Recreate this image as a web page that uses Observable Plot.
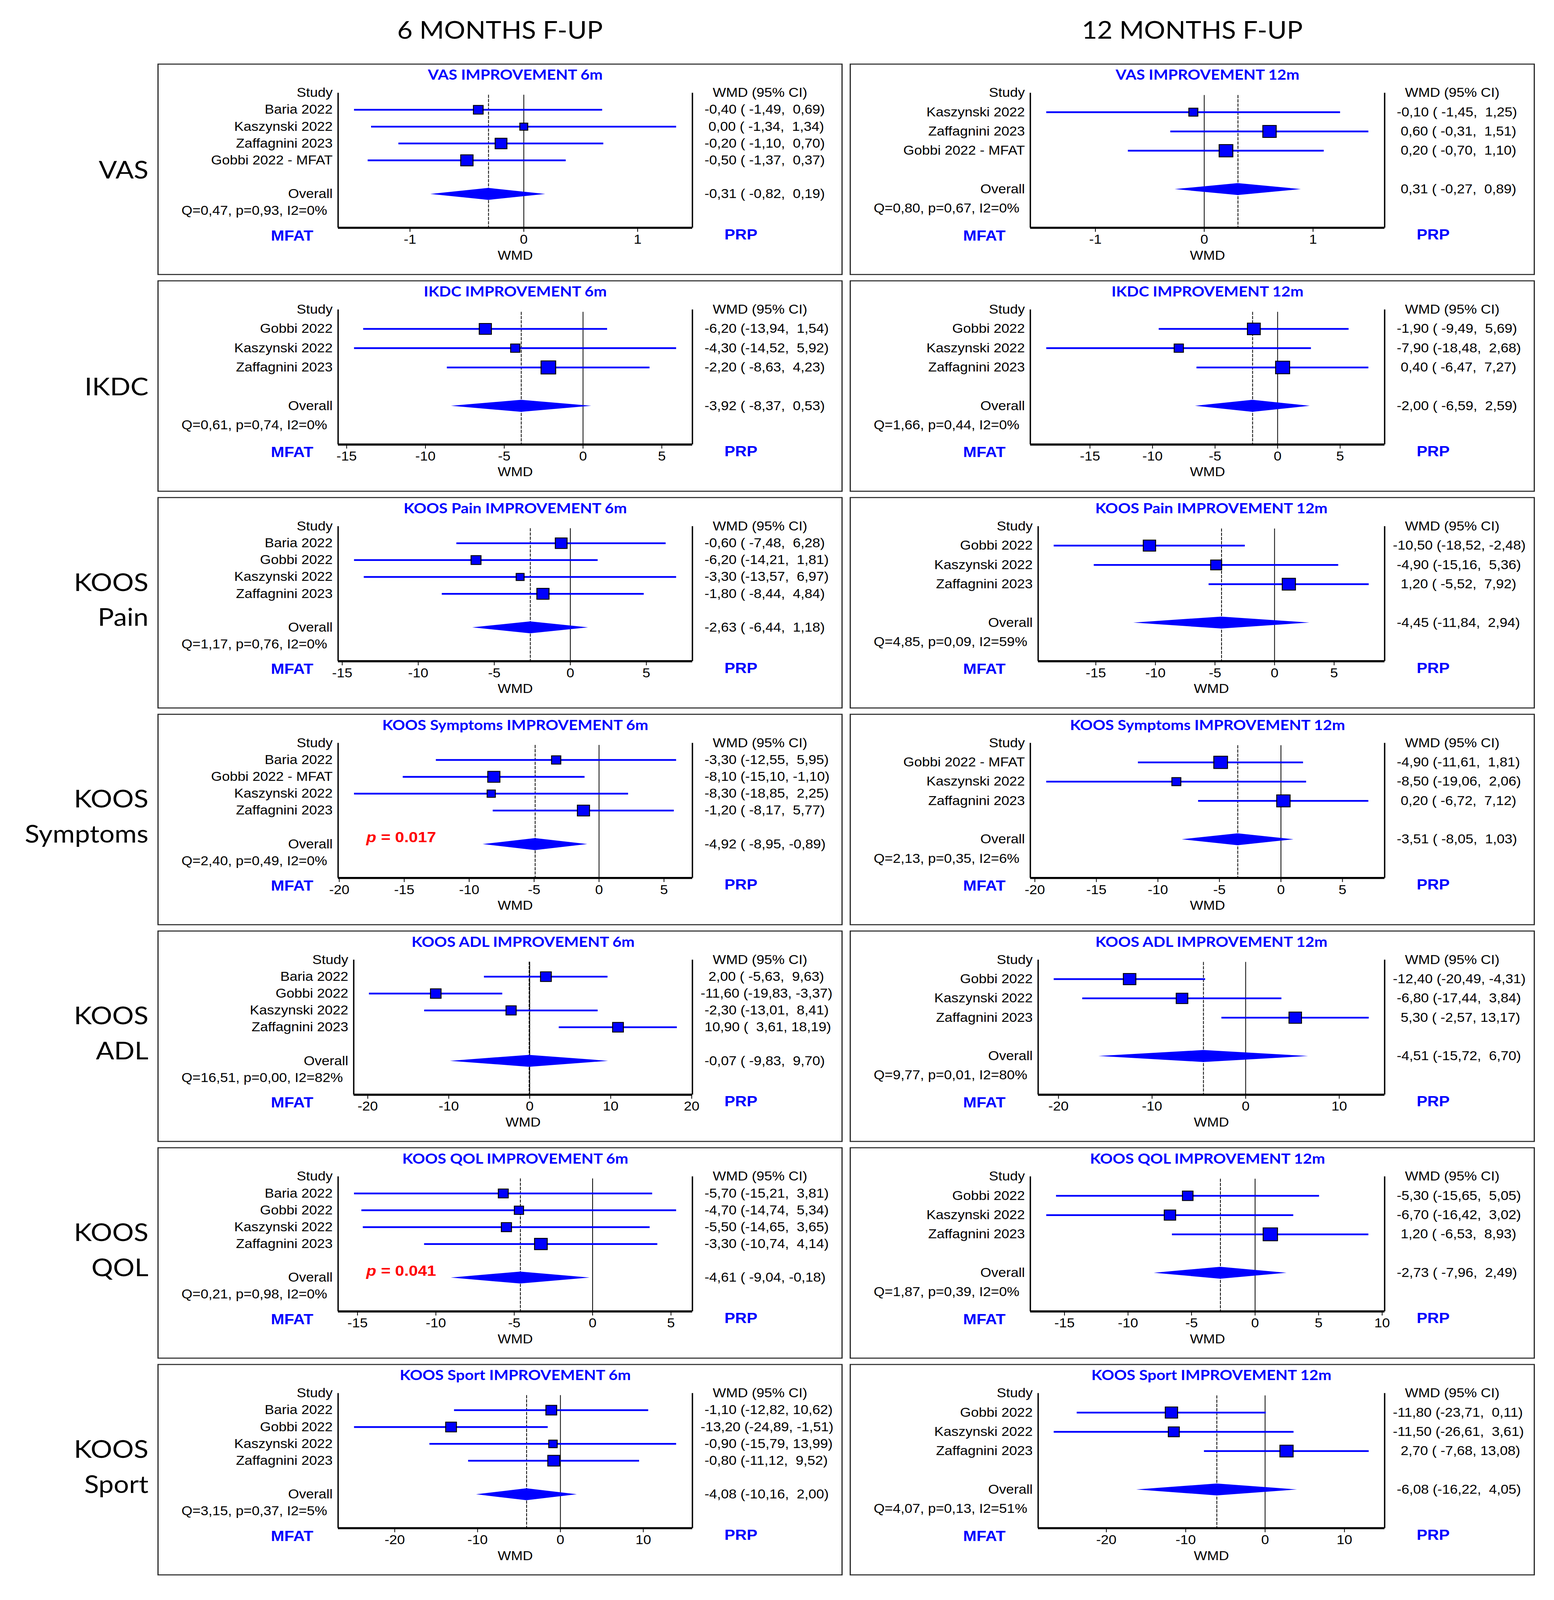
<!DOCTYPE html>
<html><head><meta charset="utf-8">
<script src="https://cdn.jsdelivr.net/npm/d3@7"></script>
<script src="https://cdn.jsdelivr.net/npm/@observablehq/plot@0.6"></script>
<style>
html,body{margin:0;padding:0;background:#fff;overflow:hidden;}
#root{position:relative;width:3978px;height:4555px;background:#fff;overflow:hidden;transform-origin:0 0}
.box{position:absolute;box-sizing:border-box;border:3px solid #2a2a2a;background:#fff}
.box svg{position:absolute;left:-3px;top:-3px;overflow:visible;max-width:none!important}
.coltitle{position:absolute;font-family:Lato,sans-serif;font-size:68px;text-align:center;line-height:80px;color:#000}
.rowlab{position:absolute;left:0;width:380px;display:flex;align-items:center;justify-content:flex-end;font-family:Lato,sans-serif;font-size:69px;line-height:100px;text-align:right;white-space:pre-line;color:#000}
</style></head><body><div id="root"></div>
<script>
// ---------------- DATA ----------------
const colTitles = ["6 MONTHS F-UP", "12 MONTHS F-UP"];
const rowLabels = ["VAS", "IKDC", "KOOS\nPain", "KOOS\nSymptoms", "KOOS\nADL", "KOOS\nQOL", "KOOS\nSport"];

// VAS 6m
const vas6Studies = ["Baria 2022", "Kaszynski 2022", "Zaffagnini 2023", "Gobbi 2022 - MFAT"];
const vas6Est = [-0.40, 0.00, -0.20, -0.50];
const vas6Lo = [-1.49, -1.34, -1.10, -1.37];
const vas6Hi = [0.69, 1.34, 0.70, 0.37];
const vas6Wt = [21, 14, 31, 34];
const vas6Overall = [-0.31, -0.82, 0.19];
const vas6Het = "Q=0,47, p=0,93, I2=0%";
const vas6Ticks = [-1, 0, 1];

// VAS 12m
const vas12Studies = ["Kaszynski 2022", "Zaffagnini 2023", "Gobbi 2022 - MFAT"];
const vas12Est = [-0.10, 0.60, 0.20];
const vas12Lo = [-1.45, -0.31, -0.70];
const vas12Hi = [1.25, 1.51, 1.10];
const vas12Wt = [18, 40, 42];
const vas12Overall = [0.31, -0.27, 0.89];
const vas12Het = "Q=0,80, p=0,67, I2=0%";
const vas12Ticks = [-1, 0, 1];

// IKDC 6m
const ikdc6Studies = ["Gobbi 2022", "Kaszynski 2022", "Zaffagnini 2023"];
const ikdc6Est = [-6.20, -4.30, -2.20];
const ikdc6Lo = [-13.94, -14.52, -8.63];
const ikdc6Hi = [1.54, 5.92, 4.23];
const ikdc6Wt = [33, 19, 48];
const ikdc6Overall = [-3.92, -8.37, 0.53];
const ikdc6Het = "Q=0,61, p=0,74, I2=0%";
const ikdc6Ticks = [-15, -10, -5, 0, 5];

// IKDC 12m
const ikdc12Studies = ["Gobbi 2022", "Kaszynski 2022", "Zaffagnini 2023"];
const ikdc12Est = [-1.90, -7.90, 0.40];
const ikdc12Lo = [-9.49, -18.48, -6.47];
const ikdc12Hi = [5.69, 2.68, 7.27];
const ikdc12Wt = [37, 19, 44];
const ikdc12Overall = [-2.00, -6.59, 2.59];
const ikdc12Het = "Q=1,66, p=0,44, I2=0%";
const ikdc12Ticks = [-15, -10, -5, 0, 5];

// KOOS Pain 6m
const pain6Studies = ["Baria 2022", "Gobbi 2022", "Kaszynski 2022", "Zaffagnini 2023"];
const pain6Est = [-0.60, -6.20, -3.30, -1.80];
const pain6Lo = [-7.48, -14.21, -13.57, -8.44];
const pain6Hi = [6.28, 1.81, 6.97, 4.84];
const pain6Wt = [31, 22, 14, 33];
const pain6Overall = [-2.63, -6.44, 1.18];
const pain6Het = "Q=1,17, p=0,76, I2=0%";
const pain6Ticks = [-15, -10, -5, 0, 5];

// KOOS Pain 12m
const pain12Studies = ["Gobbi 2022", "Kaszynski 2022", "Zaffagnini 2023"];
const pain12Est = [-10.50, -4.90, 1.20];
const pain12Lo = [-18.52, -15.16, -5.52];
const pain12Hi = [-2.48, 5.36, 7.92];
const pain12Wt = [34, 27, 39];
const pain12Overall = [-4.45, -11.84, 2.94];
const pain12Het = "Q=4,85, p=0,09, I2=59%";
const pain12Ticks = [-15, -10, -5, 0, 5];

// KOOS Symptoms 6m
const sym6Studies = ["Baria 2022", "Gobbi 2022 - MFAT", "Kaszynski 2022", "Zaffagnini 2023"];
const sym6Est = [-3.30, -8.10, -8.30, -1.20];
const sym6Lo = [-12.55, -15.10, -18.85, -8.17];
const sym6Hi = [5.95, -1.10, 2.25, 5.77];
const sym6Wt = [19, 33, 15, 33];
const sym6Overall = [-4.92, -8.95, -0.89];
const sym6Het = "Q=2,40, p=0,49, I2=0%";
const sym6Ticks = [-20, -15, -10, -5, 0, 5];
const sym6P = "0.017";

// KOOS Symptoms 12m
const sym12Studies = ["Gobbi 2022 - MFAT", "Kaszynski 2022", "Zaffagnini 2023"];
const sym12Est = [-4.90, -8.50, 0.20];
const sym12Lo = [-11.61, -19.06, -6.72];
const sym12Hi = [1.81, 2.06, 7.12];
const sym12Wt = [42, 18, 40];
const sym12Overall = [-3.51, -8.05, 1.03];
const sym12Het = "Q=2,13, p=0,35, I2=6%";
const sym12Ticks = [-20, -15, -10, -5, 0, 5];

// KOOS ADL 6m
const adl6Studies = ["Baria 2022", "Gobbi 2022", "Kaszynski 2022", "Zaffagnini 2023"];
const adl6Est = [2.00, -11.60, -2.30, 10.90];
const adl6Lo = [-5.63, -19.83, -13.01, 3.61];
const adl6Hi = [9.63, -3.37, 8.41, 18.19];
const adl6Wt = [26, 25, 23, 26];
const adl6Overall = [-0.07, -9.83, 9.70];
const adl6Het = "Q=16,51, p=0,00, I2=82%";
const adl6Ticks = [-20, -10, 0, 10, 20];

// KOOS ADL 12m
const adl12Studies = ["Gobbi 2022", "Kaszynski 2022", "Zaffagnini 2023"];
const adl12Est = [-12.40, -6.80, 5.30];
const adl12Lo = [-20.49, -17.44, -2.57];
const adl12Hi = [-4.31, 3.84, 13.17];
const adl12Wt = [35, 30, 35];
const adl12Overall = [-4.51, -15.72, 6.70];
const adl12Het = "Q=9,77, p=0,01, I2=80%";
const adl12Ticks = [-20, -10, 0, 10];

// KOOS QOL 6m
const qol6Studies = ["Baria 2022", "Gobbi 2022", "Kaszynski 2022", "Zaffagnini 2023"];
const qol6Est = [-5.70, -4.70, -5.50, -3.30];
const qol6Lo = [-15.21, -14.74, -14.65, -10.74];
const qol6Hi = [3.81, 5.34, 3.65, 4.14];
const qol6Wt = [22, 19, 23, 36];
const qol6Overall = [-4.61, -9.04, -0.18];
const qol6Het = "Q=0,21, p=0,98, I2=0%";
const qol6Ticks = [-15, -10, -5, 0, 5];
const qol6P = "0.041";

// KOOS QOL 12m
const qol12Studies = ["Gobbi 2022", "Kaszynski 2022", "Zaffagnini 2023"];
const qol12Est = [-5.30, -6.70, 1.20];
const qol12Lo = [-15.65, -16.42, -6.53];
const qol12Hi = [5.05, 3.02, 8.93];
const qol12Wt = [25, 29, 46];
const qol12Overall = [-2.73, -7.96, 2.49];
const qol12Het = "Q=1,87, p=0,39, I2=0%";
const qol12Ticks = [-15, -10, -5, 0, 5, 10];

// KOOS Sport 6m
const sport6Studies = ["Baria 2022", "Gobbi 2022", "Kaszynski 2022", "Zaffagnini 2023"];
const sport6Est = [-1.10, -13.20, -0.90, -0.80];
const sport6Lo = [-12.82, -24.89, -15.79, -11.12];
const sport6Hi = [10.62, -1.51, 13.99, 9.52];
const sport6Wt = [26, 26, 16, 32];
const sport6Overall = [-4.08, -10.16, 2.00];
const sport6Het = "Q=3,15, p=0,37, I2=5%";
const sport6Ticks = [-20, -10, 0, 10];

// KOOS Sport 12m
const sport12Studies = ["Gobbi 2022", "Kaszynski 2022", "Zaffagnini 2023"];
const sport12Est = [-11.80, -11.50, 2.70];
const sport12Lo = [-23.71, -26.61, -7.68];
const sport12Hi = [0.11, 3.61, 13.08];
const sport12Wt = [34, 27, 39];
const sport12Overall = [-6.08, -16.22, 4.05];
const sport12Het = "Q=4,07, p=0,13, I2=51%";
const sport12Ticks = [-20, -10, 0, 10];

const panelTitles = [
  ["VAS IMPROVEMENT 6m", "VAS IMPROVEMENT 12m"],
  ["IKDC IMPROVEMENT 6m", "IKDC IMPROVEMENT 12m"],
  ["KOOS Pain IMPROVEMENT 6m", "KOOS Pain IMPROVEMENT 12m"],
  ["KOOS Symptoms IMPROVEMENT 6m", "KOOS Symptoms IMPROVEMENT 12m"],
  ["KOOS ADL IMPROVEMENT 6m", "KOOS ADL IMPROVEMENT 12m"],
  ["KOOS QOL IMPROVEMENT 6m", "KOOS QOL IMPROVEMENT 12m"],
  ["KOOS Sport IMPROVEMENT 6m", "KOOS Sport IMPROVEMENT 12m"]
];

// ---------------- TABLE ----------------
const mk = (title, studies, est, lo, hi, wt, overall, het, ticks, pval) => ({title, studies, est, lo, hi, wt, overall, het, ticks, pval});
const grid = [
  [mk(panelTitles[0][0], vas6Studies, vas6Est, vas6Lo, vas6Hi, vas6Wt, vas6Overall, vas6Het, vas6Ticks),
   mk(panelTitles[0][1], vas12Studies, vas12Est, vas12Lo, vas12Hi, vas12Wt, vas12Overall, vas12Het, vas12Ticks)],
  [mk(panelTitles[1][0], ikdc6Studies, ikdc6Est, ikdc6Lo, ikdc6Hi, ikdc6Wt, ikdc6Overall, ikdc6Het, ikdc6Ticks),
   mk(panelTitles[1][1], ikdc12Studies, ikdc12Est, ikdc12Lo, ikdc12Hi, ikdc12Wt, ikdc12Overall, ikdc12Het, ikdc12Ticks)],
  [mk(panelTitles[2][0], pain6Studies, pain6Est, pain6Lo, pain6Hi, pain6Wt, pain6Overall, pain6Het, pain6Ticks),
   mk(panelTitles[2][1], pain12Studies, pain12Est, pain12Lo, pain12Hi, pain12Wt, pain12Overall, pain12Het, pain12Ticks)],
  [mk(panelTitles[3][0], sym6Studies, sym6Est, sym6Lo, sym6Hi, sym6Wt, sym6Overall, sym6Het, sym6Ticks, sym6P),
   mk(panelTitles[3][1], sym12Studies, sym12Est, sym12Lo, sym12Hi, sym12Wt, sym12Overall, sym12Het, sym12Ticks)],
  [mk(panelTitles[4][0], adl6Studies, adl6Est, adl6Lo, adl6Hi, adl6Wt, adl6Overall, adl6Het, adl6Ticks),
   mk(panelTitles[4][1], adl12Studies, adl12Est, adl12Lo, adl12Hi, adl12Wt, adl12Overall, adl12Het, adl12Ticks)],
  [mk(panelTitles[5][0], qol6Studies, qol6Est, qol6Lo, qol6Hi, qol6Wt, qol6Overall, qol6Het, qol6Ticks, qol6P),
   mk(panelTitles[5][1], qol12Studies, qol12Est, qol12Lo, qol12Hi, qol12Wt, qol12Overall, qol12Het, qol12Ticks)],
  [mk(panelTitles[6][0], sport6Studies, sport6Est, sport6Lo, sport6Hi, sport6Wt, sport6Overall, sport6Het, sport6Ticks),
   mk(panelTitles[6][1], sport12Studies, sport12Est, sport12Lo, sport12Hi, sport12Wt, sport12Overall, sport12Het, sport12Ticks)]
];

// ---------------- LAYOUT / STYLE ----------------
const PAGE_W = 3978, PAGE_H = 4555;
const BLUE = "#0000ff";
const BOX_W = 1754, BOX_H = 602;
const BOX_X = [403, 2175], BOX_Y0 = 181, BOX_PITCH = 617;
const FRAME_R = 1369, FRAME_T = 83, FRAME_B = 467;
const Q_X = 61, Q_GAP = 28;
const LABEL_FONT = "'Liberation Sans', Arial, sans-serif";
const FS = 36;

const ctx = document.createElement("canvas").getContext("2d");
function textWidth(s, font) { ctx.font = font; return ctx.measureText(s).width; }
const fmt = v => v.toFixed(2).replace(".", ",");
const ciText = (e, l, h) => `${fmt(e).padStart(6)} (${fmt(l).padStart(6)}, ${fmt(h).padStart(5)})`;

function forest(p) {
  const n = p.studies.length;
  const rows = p.studies.map((s, i) => ({study: s, est: p.est[i], lo: p.lo[i], hi: p.hi[i], w: p.wt[i], row: i + 1}));
  const ov = {est: p.overall[0], lo: p.overall[1], hi: p.overall[2], row: n + 2};
  const statRow = n + 3, axisRow = n + 4;
  const all = [...p.lo, ...p.hi, ov.lo, ov.hi];
  const mn = d3.min(all), mx = d3.max(all), pad = 0.05 * (mx - mn);
  const x0 = mn - pad, x1 = mx + pad;
  const qW = textWidth(p.het, `${FS}px ${LABEL_FONT}`);
  const mL = Math.round(Q_X + qW + Q_GAP);
  const pitch = (FRAME_B - FRAME_T) / axisRow;
  const dh = 17 / pitch;
  const diamond = [
    {x: ov.lo, y1: ov.row, y2: ov.row},
    {x: ov.est, y1: ov.row - dh, y2: ov.row + dh},
    {x: ov.hi, y1: ov.row, y2: ov.row}
  ];
  const txt = {fontFamily: LABEL_FONT, fontSize: FS, fill: "black", lineAnchor: "middle"};
  const blueBold = {fontFamily: LABEL_FONT, fontWeight: "bold", fontSize: 41, fill: BLUE, lineAnchor: "middle"};
  const marks = [
    Plot.ruleX([x0, x1], {y1: 0, y2: axisRow, strokeWidth: 3.5, stroke: "black"}),
    Plot.ruleX([0], {y1: 0.12, y2: axisRow, strokeWidth: 2, stroke: "black"}),
    Plot.ruleX([ov.est], {y1: 0.12, y2: axisRow, strokeWidth: 2, stroke: "black", strokeDasharray: "9,3"}),
    Plot.ruleY([axisRow], {strokeWidth: 6, stroke: "black"}),
    Plot.axisX({ticks: p.ticks, tickFormat: d => String(d), tickSize: 12, tickPadding: 8, fontSize: FS, fontFamily: LABEL_FONT, label: null, strokeWidth: 2}),
    Plot.ruleY(rows, {x1: "lo", x2: "hi", y: "row", stroke: BLUE, strokeWidth: 5}),
    Plot.areaY(diamond, {x: "x", y1: "y1", y2: "y2", fill: BLUE}),
    Plot.dot(rows, {x: "est", y: "row", r: "w", symbol: "square", fill: BLUE, stroke: "black", strokeWidth: 2.5}),
    Plot.text([p.title], {text: d => d, frameAnchor: "top", dy: 33 - FRAME_T, fontFamily: "Lato, sans-serif", fontWeight: "bold", fontSize: 40, fill: BLUE, lineAnchor: "middle"}),
    Plot.text(["Study"], {text: d => d, y: 0, frameAnchor: "left", textAnchor: "end", dx: -14, ...txt}),
    Plot.text(rows, {text: "study", y: "row", frameAnchor: "left", textAnchor: "end", dx: -14, ...txt}),
    Plot.text(["Overall"], {text: d => d, y: ov.row, frameAnchor: "left", textAnchor: "end", dx: -14, ...txt}),
    Plot.text([p.het], {text: d => d, y: statRow, frameAnchor: "left", textAnchor: "start", dx: Q_X - mL, ...txt}),
    Plot.text(["WMD (95% CI)"], {text: d => d, y: 0, frameAnchor: "right", textAnchor: "start", dx: 52, ...txt}),
    Plot.text(rows, {text: d => ciText(d.est, d.lo, d.hi), y: "row", frameAnchor: "right", textAnchor: "start", dx: 21, ...txt}),
    Plot.text([ov], {text: d => ciText(d.est, d.lo, d.hi), y: "row", frameAnchor: "right", textAnchor: "start", dx: 21, ...txt}),
    Plot.text(["WMD"], {text: d => d, frameAnchor: "bottom", dy: 546 - FRAME_B, ...txt}),
    Plot.text(["MFAT"], {text: d => d, frameAnchor: "bottom-left", textAnchor: "start", dx: 290 - mL, dy: 23, ...blueBold}),
    Plot.text(["PRP"], {text: d => d, frameAnchor: "bottom-right", textAnchor: "start", dx: 1451 - FRAME_R, dy: 20, ...blueBold})
  ];
  if (p.pval) {
    const red = {fontFamily: LABEL_FONT, fontWeight: "bold", fontSize: 42, fill: "#ff0000", lineAnchor: "middle", frameAnchor: "left", textAnchor: "start"};
    marks.push(
      Plot.text(["p"], {text: d => d, y: n + 1.6, dx: 72, fontStyle: "italic", ...red}),
      Plot.text([` = ${p.pval}`], {text: d => d, y: n + 1.6, dx: 72 + 26, ...red})
    );
  }
  return Plot.plot({
    width: BOX_W, height: BOX_H,
    marginLeft: mL, marginRight: BOX_W - FRAME_R, marginTop: FRAME_T, marginBottom: BOX_H - FRAME_B,
    x: {domain: [x0, x1]},
    y: {domain: [0, axisRow], reverse: true, axis: null},
    r: {type: "sqrt", domain: [0, 100], range: [0, 54 / Math.sqrt(Math.PI)]},
    style: `font-family:${LABEL_FONT};font-size:${FS}px;white-space:pre;background:transparent;overflow:visible;color:black;max-width:none`,
    marks
  });
}

// ---------------- RENDER ----------------
const root = document.getElementById("root");
colTitles.forEach((t, j) => {
  const d = document.createElement("div");
  d.className = "coltitle";
  d.style.left = BOX_X[j] + "px"; d.style.width = BOX_W + "px"; d.style.top = (84 - 40) + "px";
  d.textContent = t;
  root.appendChild(d);
});
rowLabels.forEach((t, i) => {
  const d = document.createElement("div");
  d.className = "rowlab";
  const two = t.includes("\n");
  d.style.top = (BOX_Y0 + i * BOX_PITCH - (two ? 10 : 0)) + "px";
  d.style.height = BOX_H + "px";
  const inner = document.createElement("div");
  inner.textContent = t;
  d.appendChild(inner);
  root.appendChild(d);
});
grid.forEach((row, i) => row.forEach((p, j) => {
  const box = document.createElement("div");
  box.className = "box";
  box.style.left = BOX_X[j] + "px";
  box.style.top = (BOX_Y0 + i * BOX_PITCH) + "px";
  box.style.width = BOX_W + "px";
  box.style.height = BOX_H + "px";
  box.appendChild(forest(p));
  root.appendChild(box);
}));

// fit the page into the visible window if it is smaller than the intended size
function fit() {
  const vw = document.documentElement.clientWidth || window.innerWidth;
  const vh = document.documentElement.clientHeight || window.innerHeight;
  let sx = vw / PAGE_W, sy = vh / PAGE_H;
  if (!isFinite(sx) || sx < 0.3) sx = 1;
  if (!isFinite(sy) || sy < 0.3) sy = 1;
  root.style.transform = `scale(${Math.min(1, sx)}, ${Math.min(1, sy)})`;
}
fit();
window.addEventListener("resize", fit);
</script></body></html>
